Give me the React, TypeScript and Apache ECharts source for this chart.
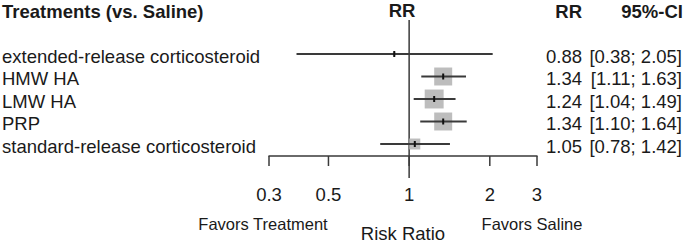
import React, { useEffect, useRef } from "react";
import * as echarts from "echarts";

const treatments = [
  "extended-release corticosteroid",
  "HMW HA",
  "LMW HA",
  "PRP",
  "standard-release corticosteroid",
];
const riskRatio = [0.88, 1.34, 1.24, 1.34, 1.05];
const ciLower = [0.38, 1.11, 1.04, 1.1, 0.78];
const ciUpper = [2.05, 1.63, 1.49, 1.64, 1.42];
const weights = [0.8, 27.5, 30.5, 27.5, 10.2];
const tickValues = [0.3, 0.5, 1, 2, 3];
const tickLabels = ["0.3", "0.5", "1", "2", "3"];

const FONT = '"Liberation Sans", Arial, sans-serif';
const FS = "18.5px";
const TXT = "#1a1a1a";
const LINE = "#3a3a3a";

export default function App() {
  const ref = useRef<HTMLDivElement>(null);
  useEffect(() => {
    if (!ref.current) return;
    const chart = echarts.init(ref.current, undefined, { renderer: "svg" });
    const rows = treatments.map((t, i) => [i, riskRatio[i], ciLower[i], ciUpper[i], weights[i]]);
    const option: any = {
      animation: false,
      grid: { left: 269, width: 268, top: 9, height: 147 },
      xAxis: {
        type: "log",
        logBase: 10,
        min: 0.3,
        max: 3,
        axisLine: { show: true, onZero: false, lineStyle: { color: LINE, width: 1.5 } },
        axisTick: { show: false },
        axisLabel: { show: false },
        splitLine: { show: false },
      },
      yAxis: {
        type: "value",
        inverse: true,
        min: -2,
        max: 4.5333,
        show: false,
      },
      graphic: [
        { type: "text", x: 2, y: 11, style: { text: "Treatments (vs. Saline)", font: `bold ${FS} ${FONT}`, fill: TXT, align: "left", verticalAlign: "middle" } },
        { type: "text", x: 402, y: 10, style: { text: "RR", font: `bold ${FS} ${FONT}`, fill: TXT, align: "center", verticalAlign: "middle" } },
        { type: "text", x: 582, y: 11, style: { text: "RR", font: `bold ${FS} ${FONT}`, fill: TXT, align: "right", verticalAlign: "middle" } },
        { type: "text", x: 683, y: 11, style: { text: "95%-CI", font: `bold ${FS} ${FONT}`, fill: TXT, align: "right", verticalAlign: "middle" } },
        { type: "text", x: 263, y: 224, style: { text: "Favors Treatment", font: `16.5px ${FONT}`, fill: TXT, align: "center", verticalAlign: "middle" } },
        { type: "text", x: 532, y: 224, style: { text: "Favors Saline", font: `16.5px ${FONT}`, fill: TXT, align: "center", verticalAlign: "middle" } },
        { type: "text", x: 403, y: 233, style: { text: "Risk Ratio", font: `${FS} ${FONT}`, fill: TXT, align: "center", verticalAlign: "middle" } },
      ],
      series: [
        {
          type: "custom",
          name: "reference",
          clip: false,
          data: [[1]],
          encode: { x: 0 },
          renderItem: (params: any, api: any) => {
            const top = api.coord([api.value(0), -1.51]);
            const bot = api.coord([api.value(0), 5.51]);
            return {
              type: "line",
              shape: { x1: top[0], y1: top[1], x2: bot[0], y2: bot[1] },
              style: { stroke: LINE, lineWidth: 1.5 },
            };
          },
        },
        {
          type: "custom",
          name: "ticks",
          clip: false,
          data: tickValues.map((v, i) => [v, i]),
          encode: { x: 0 },
          renderItem: (params: any, api: any) => {
            const v = api.value(0);
            const idx = api.value(1);
            const p = api.coord([v, 4.5333]);
            return {
              type: "group",
              children: [
                { type: "line", shape: { x1: p[0], y1: p[1], x2: p[0], y2: p[1] + 10 }, style: { stroke: LINE, lineWidth: 1.5 } },
                { type: "text", x: p[0], y: p[1] + 38, style: { text: tickLabels[idx], font: `${FS} ${FONT}`, fill: TXT, align: "center", verticalAlign: "middle" } },
              ],
            };
          },
        },
        {
          type: "custom",
          name: "studies",
          clip: false,
          data: rows,
          encode: { x: 1, y: 0 },
          renderItem: (params: any, api: any) => {
            const i = api.value(0);
            const rr = api.value(1);
            const lo = api.value(2);
            const hi = api.value(3);
            const w = api.value(4);
            const pRR = api.coord([rr, i]);
            const pLo = api.coord([lo, i]);
            const pHi = api.coord([hi, i]);
            const side = 3.43 * Math.sqrt(w);
            const ty = pRR[1] + 2;
            return {
              type: "group",
              children: [
                { type: "rect", shape: { x: pRR[0] - side / 2, y: pRR[1] - side / 2, width: side, height: side }, style: { fill: "#bdbdbd" } },
                { type: "line", shape: { x1: pLo[0], y1: pLo[1], x2: pHi[0], y2: pHi[1] }, style: { stroke: LINE, lineWidth: 2 } },
                { type: "line", shape: { x1: pRR[0], y1: pRR[1] - 3, x2: pRR[0], y2: pRR[1] + 3 }, style: { stroke: "#111", lineWidth: 2 } },
                { type: "text", x: 2, y: ty, style: { text: treatments[i], font: `${FS} ${FONT}`, fill: TXT, align: "left", verticalAlign: "middle" } },
                { type: "text", x: 582, y: ty, style: { text: rr.toFixed(2), font: `${FS} ${FONT}`, fill: TXT, align: "right", verticalAlign: "middle" } },
                { type: "text", x: 682, y: ty, style: { text: `[${lo.toFixed(2)}; ${hi.toFixed(2)}]`, font: `${FS} ${FONT}`, fill: TXT, align: "right", verticalAlign: "middle" } },
              ],
            };
          },
        },
      ],
    };
    chart.setOption(option);
    return () => chart.dispose();
  }, []);
  return (
    <div
      ref={ref}
      style={{ position: "fixed", left: 0, top: 0, width: 685, height: 244, background: "#fff" }}
    />
  );
}
